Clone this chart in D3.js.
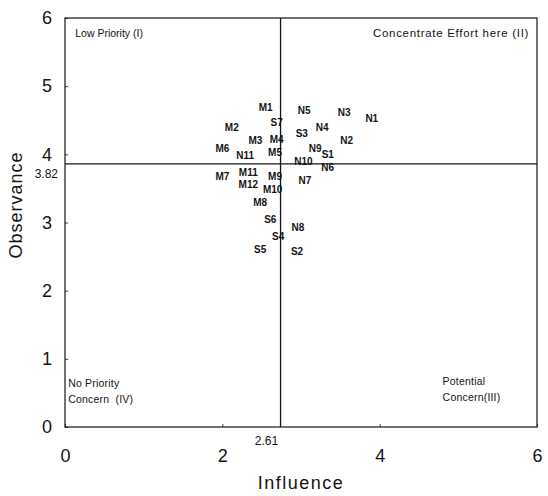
<!DOCTYPE html>
<html>
<head>
<meta charset="utf-8">
<script src="https://cdn.jsdelivr.net/npm/d3@7"></script>
<style>
  html, body { margin: 0; padding: 0; background: #fff; }
  svg { display: block; }
</style>
</head>
<body>
<svg id="chart" width="548" height="496"></svg>
<script>
// ---- data ----
const labels = ["M1","N5","N3","N1","S7","M2","N4","S3","M3","M4","N2","M6","N9","S1","N11","M5",
                "N10","N6","M7","M11","M9","N7","M12","M10","M8","S6","N8","S4","S5","S2"];
const influence = [2.55,3.04,3.55,3.90,2.69,2.12,3.27,3.01,2.42,2.69,3.58,2.00,3.18,3.34,2.29,2.67,
                   3.03,3.34,2.00,2.33,2.67,3.05,2.33,2.64,2.48,2.61,2.96,2.71,2.48,2.95];
const observance = [4.69,4.64,4.61,4.53,4.46,4.40,4.40,4.30,4.21,4.22,4.20,4.09,4.08,4.00,3.98,4.02,
                    3.89,3.81,3.67,3.74,3.68,3.62,3.56,3.49,3.30,3.05,2.93,2.79,2.61,2.57];
const xTicks = [0, 2, 4, 6];
const yTicks = [0, 1, 2, 3, 4, 5, 6];
// quadrant split lines (position as drawn in the figure) and their printed labels
const splitX = 2.74, splitXLabel = "2.61";
const splitY = 3.86, splitYLabel = "3.82";
const quadrantText = [
  { lines: ["Low Priority (I)"], x: 0.13, y: 5.72, anchor: "start", size: 10.5, spacing: 0 },
  { lines: ["Concentrate Effort here (II)"], x: 5.9, y: 5.72, anchor: "end", size: 11.5, spacing: 0.7 },
  { lines: ["No Priority", "Concern  (IV)"], x: 0.04, y: 0.58, anchor: "start", size: 10.5, spacing: 0.2 },
  { lines: ["Potential", "Concern(III)"], x: 4.8, y: 0.62, anchor: "start", size: 10.5, spacing: 0.2 }
];

// ---- layout ----
const svg = d3.select("#chart");
const mL = 65, mR = 537, mT = 18, mB = 427;
const x = d3.scaleLinear().domain([0, 6]).range([mL, mR]);
const y = d3.scaleLinear().domain([0, 6]).range([mB, mT]);
const ink = "#141414";
const font = "'Liberation Sans', Arial, Helvetica, sans-serif";

// frame
svg.append("rect")
  .attr("x", mL).attr("y", mT)
  .attr("width", mR - mL).attr("height", mB - mT)
  .attr("fill", "none").attr("stroke", ink).attr("stroke-width", 1.2);

// axes
const xAxis = svg.append("g").attr("transform", `translate(0,${mB})`)
  .call(d3.axisBottom(x).tickValues(xTicks).tickFormat(d3.format("d"))
        .tickSizeInner(-3).tickSizeOuter(0).tickPadding(22));
const yAxis = svg.append("g").attr("transform", `translate(${mL},0)`)
  .call(d3.axisLeft(y).tickValues(yTicks).tickFormat(d3.format("d"))
        .tickSizeInner(-3).tickSizeOuter(0).tickPadding(13));
[xAxis, yAxis].forEach(g => {
  g.select(".domain").remove();
  g.selectAll(".tick line").attr("stroke", ink).attr("stroke-width", 0.8);
  g.selectAll(".tick text").attr("fill", ink)
    .style("font-family", font).style("font-size", "18px");
});

// quadrant split lines
svg.append("line")
  .attr("x1", x(splitX)).attr("x2", x(splitX))
  .attr("y1", y(6)).attr("y2", y(0))
  .attr("stroke", ink).attr("stroke-width", 1.3);
svg.append("line")
  .attr("x1", x(0)).attr("x2", x(6))
  .attr("y1", y(splitY)).attr("y2", y(splitY))
  .attr("stroke", ink).attr("stroke-width", 1.3);

// split labels
svg.append("text")
  .attr("x", x(splitX) - 14).attr("y", mB + 18)
  .attr("text-anchor", "middle")
  .style("font-family", font).style("font-size", "12px").attr("fill", ink)
  .text(splitXLabel);
svg.append("text")
  .attr("x", 58).attr("y", y(splitY) + 14)
  .attr("text-anchor", "end")
  .style("font-family", font).style("font-size", "12px").attr("fill", ink)
  .text(splitYLabel);

// quadrant labels
quadrantText.forEach(q => {
  const t = svg.append("text")
    .attr("text-anchor", q.anchor)
    .style("font-family", font).style("font-size", q.size + "px")
    .style("letter-spacing", q.spacing + "px").attr("fill", ink);
  q.lines.forEach((ln, i) => {
    t.append("tspan").attr("x", x(q.x)).attr("y", y(q.y) + i * 16)
      .attr("xml:space", "preserve").text(ln);
  });
});

// points as labels
const pts = labels.map((l, i) => ({ l, xv: influence[i], yv: observance[i] }));
svg.append("g").selectAll("text").data(pts).join("text")
  .attr("x", d => x(d.xv)).attr("y", d => y(d.yv))
  .attr("text-anchor", "middle").attr("dominant-baseline", "central")
  .style("font-family", font).style("font-size", "10px").style("font-weight", "bold")
  .attr("fill", ink)
  .text(d => d.l);

// axis titles
svg.append("text")
  .attr("x", (mL + mR) / 2).attr("y", 489)
  .attr("text-anchor", "middle")
  .style("font-family", font).style("font-size", "18px").attr("fill", ink)
  .style("letter-spacing", "1.5px")
  .text("Influence");
svg.append("text")
  .attr("transform", `translate(22,205) rotate(-90)`)
  .attr("text-anchor", "middle")
  .style("font-family", font).style("font-size", "18px").attr("fill", ink)
  .style("letter-spacing", "1px")
  .text("Observance");
</script>
</body>
</html>
